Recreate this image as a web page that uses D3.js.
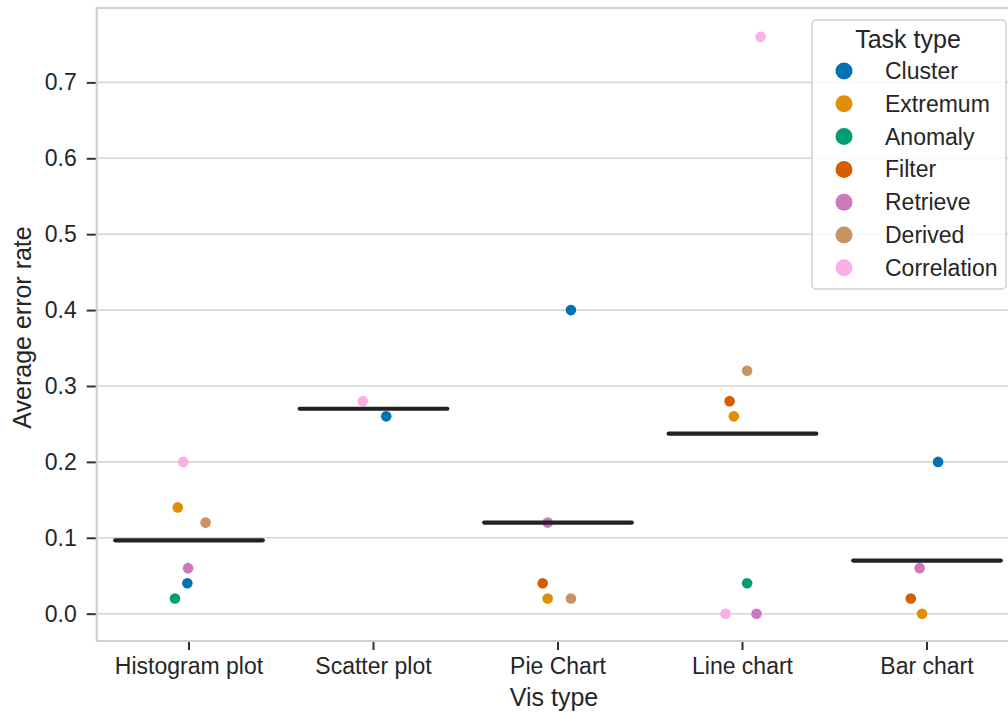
<!DOCTYPE html>
<html>
<head>
<meta charset="utf-8">
<script src="https://cdn.jsdelivr.net/npm/d3@7"></script>
<style>
  body { margin: 0; background: #fff; }
  text { font-family: "Liberation Sans", Arial, sans-serif; fill: #262626; }
</style>
</head>
<body>
<div id="chart"></div>
<script>
// categories
const visTypes = ["Histogram plot", "Scatter plot", "Pie Chart", "Line chart", "Bar chart"];
const taskTypes = ["Cluster", "Extremum", "Anomaly", "Filter", "Retrieve", "Derived", "Correlation"];
const taskColors = ["#0173b2", "#de8f05", "#029e73", "#d55e00", "#cc78bc", "#ca9161", "#fbafe4"];
const yTicks = [0, 0.1, 0.2, 0.3, 0.4, 0.5, 0.6, 0.7];

// one entry per point
const pointVis = [
  "Histogram plot", "Histogram plot", "Histogram plot", "Histogram plot", "Histogram plot", "Histogram plot",
  "Scatter plot", "Scatter plot",
  "Pie Chart", "Pie Chart", "Pie Chart", "Pie Chart", "Pie Chart",
  "Line chart", "Line chart", "Line chart", "Line chart", "Line chart", "Line chart", "Line chart",
  "Bar chart", "Bar chart", "Bar chart", "Bar chart"
];
const pointTask = [
  "Cluster", "Extremum", "Anomaly", "Retrieve", "Derived", "Correlation",
  "Cluster", "Correlation",
  "Cluster", "Extremum", "Filter", "Retrieve", "Derived",
  "Extremum", "Anomaly", "Filter", "Retrieve", "Derived", "Correlation", "Correlation",
  "Cluster", "Extremum", "Filter", "Retrieve"
];
const pointError = [
  0.04, 0.14, 0.02, 0.06, 0.12, 0.20,
  0.26, 0.28,
  0.40, 0.02, 0.04, 0.12, 0.02,
  0.26, 0.04, 0.28, 0.00, 0.32, 0.76, 0.00,
  0.20, 0.00, 0.02, 0.06
];
// strip jitter, in category widths
const jitter = [
  -0.009, -0.061, -0.076, -0.005, 0.090, -0.031,
  0.069, -0.058,
  0.070, -0.056, -0.083, -0.056, 0.070,
  -0.047, 0.025, -0.070, 0.076, 0.025, 0.098, -0.092,
  0.060, -0.027, -0.088, -0.040
];

const W = 1008, H = 713;
const plotL = 96.75, plotR = 1019.25, plotT = 8, plotB = 641;

const svg = d3.select("#chart").append("svg")
  .attr("width", W).attr("height", H);

const x = d3.scaleBand().domain(visTypes).range([plotL, plotR]).padding(0);
const y = d3.scaleLinear().domain([-0.036, 0.798]).range([plotB, plotT]);
const color = d3.scaleOrdinal().domain(taskTypes).range(taskColors);

// grid
svg.append("g").selectAll("line")
  .data(yTicks).enter().append("line")
    .attr("x1", plotL).attr("x2", W)
    .attr("y1", d => y(d)).attr("y2", d => y(d))
    .attr("stroke", "#d6d6d6").attr("stroke-width", 1.6);

// spines
svg.append("path")
  .attr("d", `M${plotL},${plotB}H${W}M${plotL},${plotB}V${plotT}H${W}`)
  .attr("fill", "none").attr("stroke", "#d0d0d0").attr("stroke-width", 2.2);

// Y axis
const yAxis = svg.append("g")
  .attr("transform", `translate(${plotL - 1},0)`)
  .call(d3.axisLeft(y).tickValues(yTicks).tickFormat(d3.format(".1f")).tickSize(9).tickPadding(10));
yAxis.select(".domain").remove();
yAxis.selectAll(".tick line").attr("stroke", "#333").attr("stroke-width", 2);
yAxis.selectAll(".tick text").style("font-size", "23px").attr("fill", "#262626");

// X axis
const xAxis = svg.append("g")
  .attr("transform", `translate(0,${plotB + 1})`)
  .call(d3.axisBottom(x).tickSize(8).tickPadding(8));
xAxis.select(".domain").remove();
xAxis.selectAll(".tick line").attr("stroke", "#333").attr("stroke-width", 2);
xAxis.selectAll(".tick text").style("font-size", "23px").attr("fill", "#262626");

// axis titles
svg.append("text")
  .attr("x", (plotL + plotR) / 2 - 4).attr("y", 706)
  .attr("text-anchor", "middle").style("font-size", "25px")
  .text("Vis type");
svg.append("text")
  .attr("transform", `translate(31,${(plotT + plotB) / 2 + 3}) rotate(-90)`)
  .attr("text-anchor", "middle").style("font-size", "25px")
  .text("Average error rate");

// points
const pts = pointVis.map((v, i) => ({ vis: v, task: pointTask[i], value: pointError[i], j: jitter[i] }));
svg.append("g").selectAll("circle")
  .data(pts).enter().append("circle")
    .attr("cx", d => x(d.vis) + x.bandwidth() / 2 + d.j * x.step())
    .attr("cy", d => y(d.value))
    .attr("r", 5.3)
    .attr("fill", d => color(d.task));

// mean lines
const means = visTypes.map(v => ({ vis: v, mean: d3.mean(pts.filter(p => p.vis === v), p => p.value) }));
svg.append("g").selectAll("line")
  .data(means).enter().append("line")
    .attr("x1", d => x(d.vis) + x.bandwidth() * 0.1)
    .attr("x2", d => x(d.vis) + x.bandwidth() * 0.9)
    .attr("y1", d => y(d.mean)).attr("y2", d => y(d.mean))
    .attr("stroke", "#222").attr("stroke-width", 4.2).attr("stroke-linecap", "round");

// legend
const lg = svg.append("g").attr("transform", "translate(812,20)");
lg.append("rect")
  .attr("width", 194).attr("height", 269).attr("rx", 4)
  .attr("fill", "#fff").attr("fill-opacity", 0.85)
  .attr("stroke", "#d0d0d0").attr("stroke-width", 1.5);
lg.append("text")
  .attr("x", 96).attr("y", 28).attr("text-anchor", "middle")
  .style("font-size", "25px").text("Task type");
const item = lg.selectAll(".item")
  .data(taskTypes).enter().append("g")
    .attr("transform", (d, i) => `translate(0,${51 + i * 32.8})`);
item.append("circle").attr("cx", 32).attr("r", 8.5).attr("fill", d => color(d));
item.append("text").attr("x", 73).attr("dy", "0.35em")
  .style("font-size", "23px").text(d => d);
</script>
</body>
</html>
